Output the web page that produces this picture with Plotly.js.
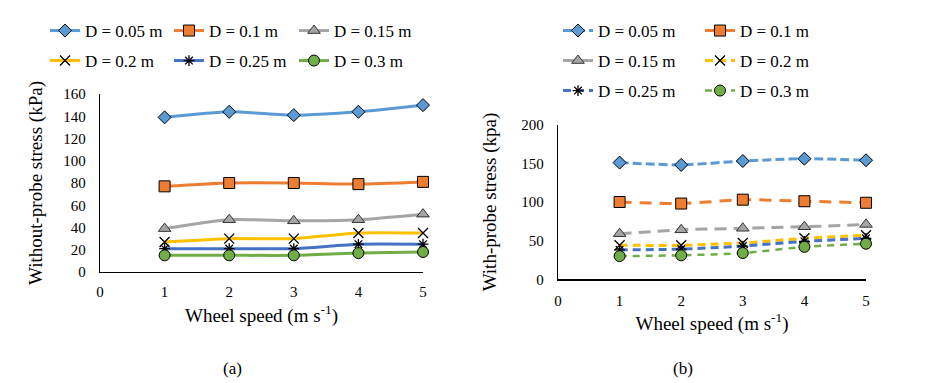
<!DOCTYPE html>
<html><head><meta charset="utf-8">
<script src="https://cdn.plot.ly/plotly-3.0.1.min.js"></script>
<style>
html,body{margin:0;padding:0;background:#fff}
</style>
</head><body><div id="chart" style="width:931px;height:383px"></div>
<script>
// ---- data ----
const wheelSpeed = [1, 2, 3, 4, 5];
const seriesNames = ['D = 0.05 m', 'D = 0.1 m', 'D = 0.15 m', 'D = 0.2 m', 'D = 0.25 m', 'D = 0.3 m'];
// (a) without-probe stress (kPa)
const without_D005 = [139, 144, 141, 144, 150];
const without_D010 = [77, 80, 80, 79, 81];
const without_D015 = [39, 47, 46, 47, 52];
const without_D020 = [27, 30, 30, 35, 35];
const without_D025 = [21, 21, 21, 25, 25];
const without_D030 = [15, 15, 15, 17, 18];
// (b) with-probe stress (kpa)
const with_D005 = [151, 148, 153, 156, 154];
const with_D010 = [100, 98, 103, 101, 99];
const with_D015 = [59, 64, 66, 68, 71];
const with_D020 = [44, 44, 47, 53, 57];
const with_D025 = [38, 39, 43, 49, 53];
const with_D030 = [30, 31, 34, 42, 46];
const xTicks = [0, 1, 2, 3, 4, 5];

// ---- styles ----
const colors = ['#5B9BD5', '#ED7D31', '#A5A5A5', '#FFC000', '#4472C4', '#70AD47'];
const symbols = ['diamond', 'square', 'triangle-up', 'x-thin-open', 'asterisk-open', 'circle'];
const mSizes = [10, 11, 11, 10, 9, 11];
const dashes = ['9px,4px', '12px,8px', '12px,7px', '8px,5px', '8px,5px', '7px,6px'];
const W = 931, H = 383;
const font = 'Liberation Serif, Times New Roman, serif';

// legend slot positions (left edge px, centre y px)
const legA = [[45, 31], [169, 31], [294, 31], [45, 61], [169, 61], [294, 61]];
const legB = [[558, 31], [700, 31], [558, 61], [700, 61], [558, 91], [700, 91]];

function marker(i) {
  const open = i === 3 || i === 4;
  return {
    symbol: symbols[i], size: mSizes[i],
    color: open ? '#000' : colors[i],
    line: {color: open ? '#000' : (i === 2 ? '#333' : '#000'), width: open ? 1.3 : 1}
  };
}
function legName(n) { return n === 1 ? 'legend' : 'legend' + n; }

const withoutData = [without_D005, without_D010, without_D015, without_D020, without_D025, without_D030];
const withData = [with_D005, with_D010, with_D015, with_D020, with_D025, with_D030];
const traces = [];
withoutData.forEach((ys, i) => {
  traces.push({
    x: wheelSpeed, y: ys, name: seriesNames[i], type: 'scatter', mode: 'lines+markers',
    xaxis: 'x', yaxis: 'y', cliponaxis: false, legend: legName(i + 1),
    line: {color: colors[i], width: 3, shape: 'spline', smoothing: 0.6},
    marker: marker(i)
  });
});
withData.forEach((ys, i) => {
  traces.push({
    x: wheelSpeed, y: ys, name: seriesNames[i], type: 'scatter', mode: 'lines+markers',
    xaxis: 'x2', yaxis: 'y2', cliponaxis: false, legend: legName(i + 7),
    line: {color: colors[i], width: i === 5 ? 2.5 : 3, dash: dashes[i], shape: 'spline', smoothing: 0.6},
    marker: marker(i)
  });
});

function leg(p) {
  return {
    xref: 'container', yref: 'container', x: p[0] / W, y: 1 - p[1] / H,
    xanchor: 'left', yanchor: 'middle', orientation: 'h',
    bgcolor: 'rgba(0,0,0,0)', font: {family: font, size: 17, color: '#000'}
  };
}

const axBase = {
  showgrid: false, zeroline: false, showline: true, linecolor: '#000', linewidth: 1.2,
  ticks: '', tickfont: {family: font, size: 15, color: '#000'}, automargin: false, fixedrange: true
};
const titleFont = {family: font, size: 19, color: '#000'};

const layout = {
  width: W, height: H, margin: {l: 0, r: 0, t: 0, b: 0, autoexpand: false},
  paper_bgcolor: '#fff', plot_bgcolor: 'rgba(0,0,0,0)',
  font: {family: font, color: '#000'},
  showlegend: true,
  xaxis: Object.assign({}, axBase, {
    domain: [100 / W, 423 / W], range: [0, 5], tickvals: xTicks, ticklabelstandoff: 6,
    anchor: 'y',
    title: {text: 'Wheel speed (m s<sup>-1</sup>)', font: titleFont, standoff: 9}
  }),
  yaxis: Object.assign({}, axBase, {
    domain: [1 - 272 / H, 1 - 94 / H], range: [0, 160], dtick: 20, ticklabelstandoff: 10,
    anchor: 'x',
    title: {text: 'Without-probe stress (kPa)', font: titleFont, standoff: 15}
  }),
  xaxis2: Object.assign({}, axBase, {
    domain: [558 / W, 866 / W], range: [0, 5], tickvals: xTicks, ticklabelstandoff: 7,
    anchor: 'y2',
    title: {text: 'Wheel speed (m s<sup>-1</sup>)', font: titleFont, standoff: 9}
  }),
  yaxis2: Object.assign({}, axBase, {
    domain: [1 - 279.3 / H, 1 - 124.7 / H], range: [0, 200], dtick: 50, ticklabelstandoff: 10,
    anchor: 'x2',
    title: {text: 'With-probe stress (kpa)', font: titleFont, standoff: 19}
  }),
  annotations: [
    {text: '(a)', xref: 'paper', yref: 'paper', x: 232 / W, y: 1 - 368 / H, showarrow: false,
     font: {family: font, size: 17, color: '#000'}, xanchor: 'center', yanchor: 'middle'},
    {text: '(b)', xref: 'paper', yref: 'paper', x: 683 / W, y: 1 - 368 / H, showarrow: false,
     font: {family: font, size: 17, color: '#000'}, xanchor: 'center', yanchor: 'middle'}
  ]
};
legA.forEach((p, i) => { layout[legName(i + 1)] = leg(p); });
legB.forEach((p, i) => { layout[legName(i + 7)] = leg(p); });

Plotly.newPlot('chart', traces, layout, {staticPlot: true, displayModeBar: false});
</script></body></html>
